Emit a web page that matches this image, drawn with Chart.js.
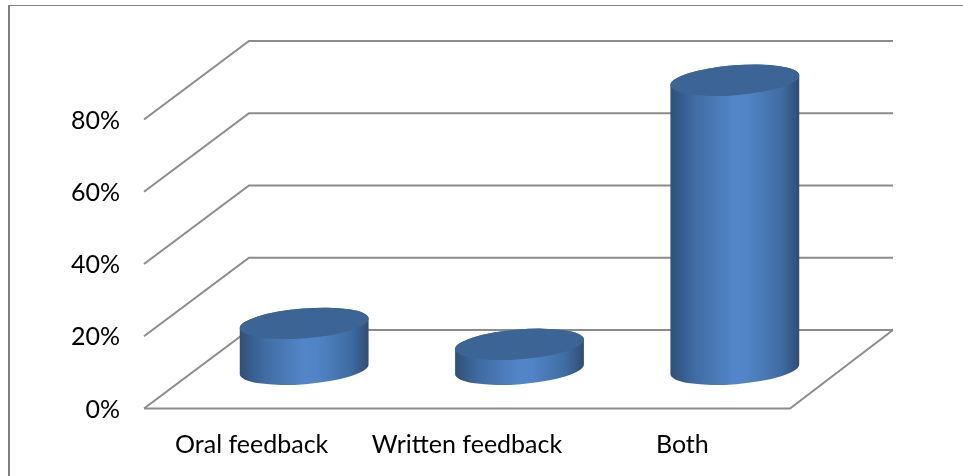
<!DOCTYPE html>
<html>
<head>
<meta charset="utf-8">
<style>
  html, body { margin: 0; padding: 0; background: #fff; overflow: hidden; }
  #wrap { position: absolute; left: 0; top: 0; width: 963px; height: 476px; overflow: hidden; }
  #frame { position: absolute; left: 8px; top: 5px; width: 955px; height: 471px; border: solid #808080; border-width: 1px 0 0 2px; }
  canvas { position: absolute; left: 0; top: 0; }
</style>
<script src="https://cdn.jsdelivr.net/npm/chart.js@4"></script>
</head>
<body>
<div id="wrap">
  <div id="frame"></div>
  <canvas id="feedbackChart" width="963" height="476"></canvas>
</div>
<script>
const categories = ['Oral feedback', 'Written feedback', 'Both'];
const shares = [12.7, 6.9, 80];
const tickValues = [0, 20, 40, 60, 80];

// 3D look of the original: floor runs this far back and up
const depthX = 105;
const depthY = 78.5;
const gridColor = '#8c8c8c';
const tilt = -4.5 * Math.PI / 180;
const ellipseRatio = 0.231;

function bodyGradient(ctx, left, right) {
    const g = ctx.createLinearGradient(left, 0, right, 0);
    g.addColorStop(0, '#2f5078');
    g.addColorStop(0.18, '#3f6ba1');
    g.addColorStop(0.5, '#5386c9');
    g.addColorStop(0.6, '#5184c6');
    g.addColorStop(0.86, '#3f6ca2');
    g.addColorStop(1, '#2f4d73');
    return g;
}

const wallsPlugin = {
    id: 'walls',
    beforeDatasetsDraw(chart) {
        const { ctx, chartArea, scales } = chart;
        const { left, right } = chartArea;
        ctx.save();
        ctx.strokeStyle = gridColor;
        ctx.lineWidth = 2;
        tickValues.forEach((v) => {
            const y = scales.y.getPixelForValue(v);
            ctx.beginPath();
            ctx.moveTo(left, y);
            ctx.lineTo(left + depthX, y - depthY);
            ctx.lineTo(right + depthX - 2, y - depthY);
            ctx.stroke();
        });
        const floorY = scales.y.getPixelForValue(0);
        ctx.beginPath();
        ctx.moveTo(left, floorY);
        ctx.lineTo(right, floorY);
        ctx.lineTo(right + depthX - 2, floorY - depthY);
        ctx.stroke();
        ctx.restore();
    },
};

// cylinders stand in the middle of the floor, so shift each bar by half the depth
const cylinderPlugin = {
    id: 'cylinders',
    beforeDatasetDraw(chart, args) {
        const { ctx } = chart;
        const bars = chart.getDatasetMeta(args.index).data;
        bars.forEach((bar) => {
            const cx = bar.x + depthX / 2;
            const topY = bar.y - depthY / 2;
            const baseY = bar.base - depthY / 2;
            const a = bar.width / 2;
            const b = a * ellipseRatio;
            ctx.save();
            ctx.beginPath();
            ctx.ellipse(cx, baseY, a, b, tilt, 0, Math.PI);
            ctx.ellipse(cx, topY, a, b, tilt, Math.PI, Math.PI * 2);
            ctx.closePath();
            ctx.fillStyle = bodyGradient(ctx, cx - a, cx + a);
            ctx.fill();
            ctx.beginPath();
            ctx.ellipse(cx, topY, a, b, tilt, 0, Math.PI * 2);
            ctx.fillStyle = '#3c6494';
            ctx.fill();
            ctx.restore();
        });
        return false;
    },
};

const config = {
    type: 'bar',
    data: {
        labels: categories,
        datasets: [{
            data: shares,
            backgroundColor: '#4f81bd',
            barPercentage: 0.6,
            categoryPercentage: 1,
        }],
    },
    options: {
        responsive: false,
        animation: false,
        layout: { padding: { left: 0, right: 173, top: 119.5, bottom: 0 } },
        plugins: { legend: { display: false }, tooltip: { enabled: false } },
        scales: {
            x: {
                grid: { display: false },
                border: { display: false },
                ticks: { color: '#000', font: { family: 'Lato', size: 25 }, padding: 13, maxRotation: 0, autoSkip: false },
                afterFit(axis) { axis.height = 67.5; },
            },
            y: {
                min: 0,
                max: 80,
                grid: { display: false },
                border: { display: false },
                afterBuildTicks(axis) { axis.ticks = tickValues.map((value) => ({ value })); },
                ticks: { color: '#000', font: { family: 'Lato', size: 25 }, padding: 16, labelOffset: 1, callback: (v) => v + '%' },
                afterFit(axis) { axis.width = 144; },
            },
        },
    },
    plugins: [wallsPlugin, cylinderPlugin],
};

new Chart(document.getElementById('feedbackChart'), config);
</script>
</body>
</html>
